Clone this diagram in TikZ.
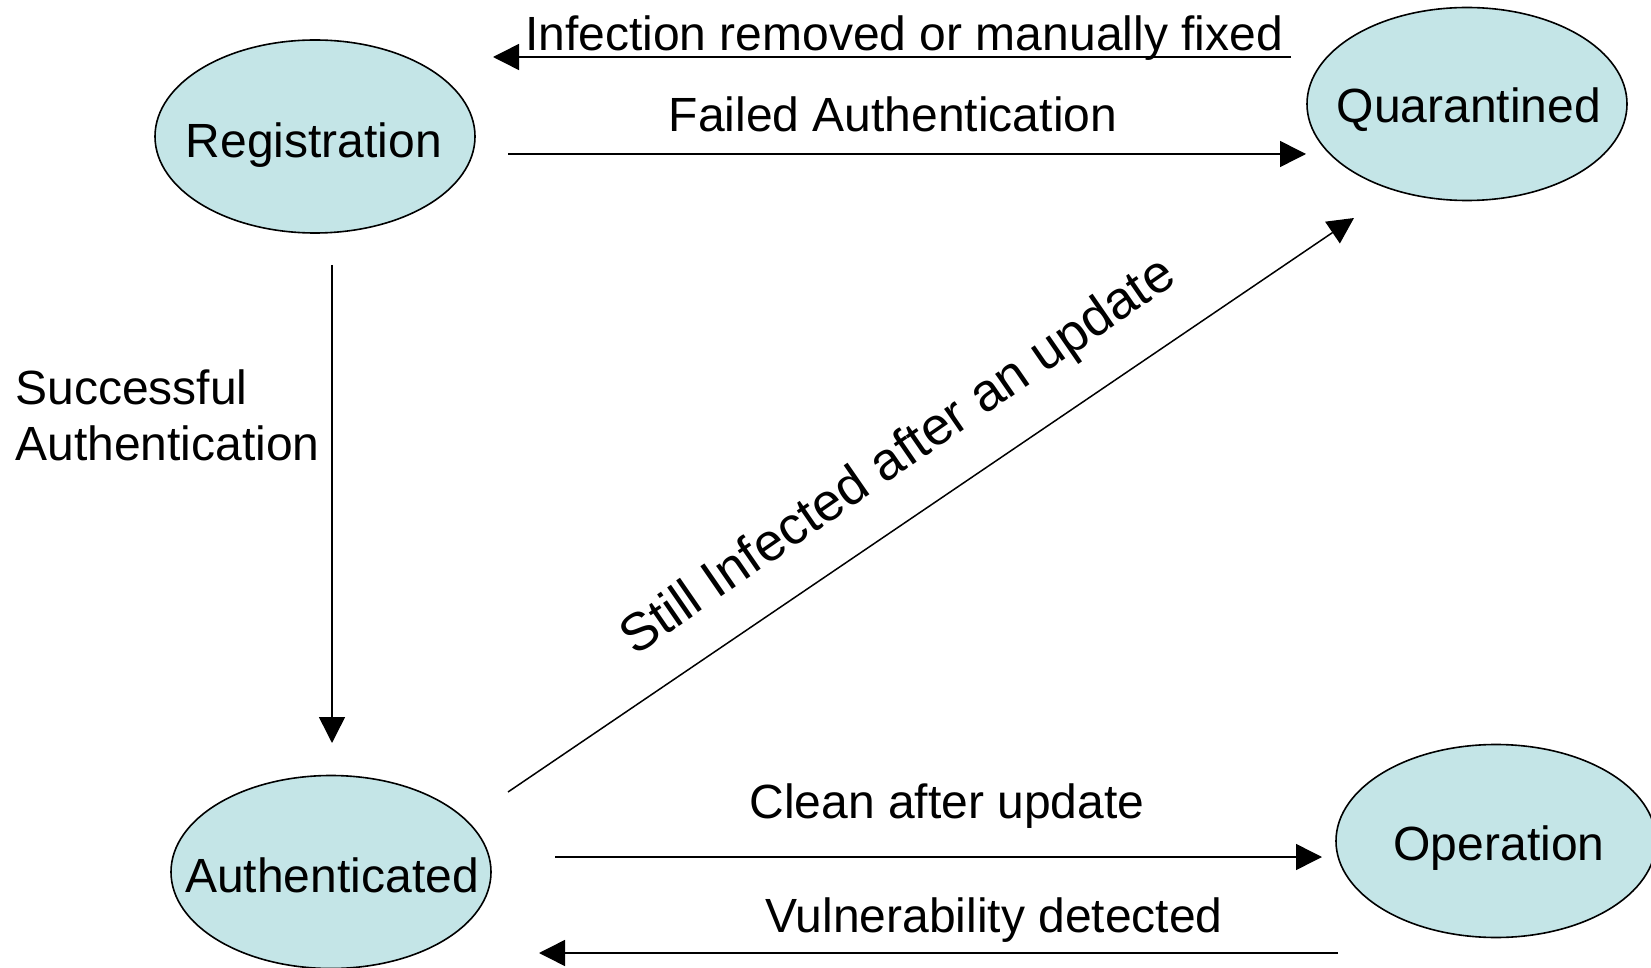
\documentclass[tikz,border=0pt]{standalone}
\usepackage{fontspec}
\setmainfont{Liberation Sans}
\usetikzlibrary{arrows.meta,shapes.geometric}
\definecolor{statefill}{RGB}{196,229,231}
\begin{document}
\begin{tikzpicture}[x=0.5pt,y=-0.5pt,
  state/.style={ellipse,draw=black,line width=0.8pt,fill=statefill,minimum width=160pt,minimum height=96.5pt,inner sep=0pt,font=\fontsize{24}{28}\selectfont},
  lbl/.style={font=\fontsize{24}{28}\selectfont,inner sep=0pt},
  conn/.style={line width=0.75pt,-{Triangle[length=13pt,width=13pt]}}]
\useasboundingbox (0,0) rectangle (1651,968);
% states
\node[state] (reg) at (315,136.5) {};
\node[state] (qua) at (1467,104) {};
\node[state] (aut) at (331,872) {};
\node[state] (ope) at (1496,841) {};
\node[lbl,anchor=base] (regt) at (314,158) {Registration};
\node[lbl,anchor=base] (quat) at (1469,123) {Quarantined};
\node[lbl,anchor=base] (autt) at (332,892) {Authenticated};
\node[lbl,anchor=base] (opet) at (1499,860) {Operation};
% connector ends
\coordinate (q1) at (1291,57);  \coordinate (r1) at (493,57);
\coordinate (r2) at (508,154);  \coordinate (q2) at (1306,154);
\coordinate (r3) at (332,265);  \coordinate (a3) at (332,743);
\coordinate (a4) at (508,792);  \coordinate (q4) at (1354,218);
\coordinate (a5) at (555,857);  \coordinate (o5) at (1322,857);
\coordinate (o6) at (1338,953); \coordinate (a6) at (539,953);
% connectors
\draw[conn] (q1) -- (r1);
\draw[conn] (r2) -- (q2);
\draw[conn] (r3) -- (a3);
\draw[conn] (a4) -- (q4);
\draw[conn] (a5) -- (o5);
\draw[conn] (o6) -- (a6);
% labels
\node[lbl,anchor=base] (l1) at (904,50.5) {Infection removed or manually fixed};
\node[lbl,anchor=base] (l2) at (893,132) {Failed Authentication};
\node[lbl,anchor=base west,align=left] (l3) at (15,460) {Successful\\Authentication};
\node[lbl,rotate=34.6,font=\fontsize{26.5}{30}\selectfont] (l4) at (899,458) {Still Infected after an update};
\node[lbl,anchor=base] (l5) at (947,818) {Clean after update};
\node[lbl,anchor=base] (l6) at (994,932) {Vulnerability detected};
\end{tikzpicture}
\end{document}
